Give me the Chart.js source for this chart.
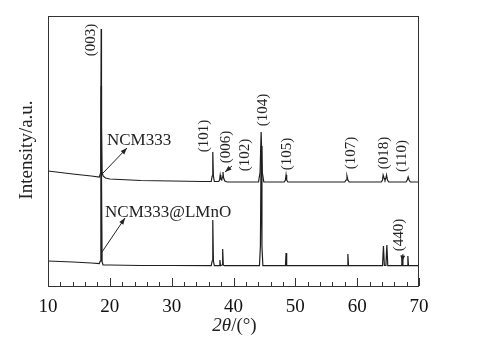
<!DOCTYPE html>
<html>
<head>
<meta charset="utf-8">
<script src="https://cdn.jsdelivr.net/npm/chart.js@4"></script>
<style>
  html, body { margin: 0; padding: 0; background: #fff; }
  #wrap { width: 477px; height: 354px; }
</style>
</head>
<body>
<div id="wrap"><canvas id="xrd" width="477" height="354"></canvas></div>
<script>
// 2theta / intensity (arbitrary units, upper trace offset)
var ncmTheta = [10, 14, 17, 18.3, 18.45, 18.55, 18.6, 18.65, 18.75, 18.9, 19.3, 20, 25, 30, 35, 36.4, 36.55, 36.65, 36.75, 36.9, 37.6, 37.75, 37.85, 37.95, 38.1, 38.2, 38.3, 38.4, 38.6, 39, 44.05, 44.3, 44.47, 44.65, 44.9, 48.2, 48.4, 48.5, 48.6, 48.8, 58.0, 58.2, 58.35, 58.5, 58.7, 63.9, 64.1, 64.2, 64.35, 64.5, 64.65, 64.75, 64.9, 65.1, 67.9, 68.1, 68.25, 68.4, 68.6, 70];
var ncmInt   = [115, 112, 110, 109, 112, 170, 257, 160, 114, 110, 108, 107, 105.5, 105, 104.5, 104.5, 110, 134, 110, 104.5, 104.5, 106, 111, 107, 106, 109, 114, 108, 105, 104, 104, 114, 154, 114, 104, 104, 106, 111, 106, 104, 104, 106, 110, 106, 104, 104, 106, 111, 108, 106, 108, 111, 106, 104, 104, 106, 109, 106, 104, 104];

var lmnoTheta = [10, 14, 17, 18.3, 18.45, 18.55, 18.6, 18.65, 18.75, 18.9, 20, 25, 30, 36.4, 36.55, 36.65, 36.75, 36.9, 37.7, 37.8, 37.9, 38.15, 38.25, 38.35, 38.5, 44.2, 44.35, 44.47, 44.6, 44.75, 48.4, 48.5, 48.6, 58.4, 58.5, 58.6, 64.1, 64.25, 64.4, 64.65, 64.8, 64.95, 67.2, 67.3, 67.4, 68.1, 68.2, 68.3, 70];
var lmnoInt   = [25, 24, 23, 22.5, 25, 120, 200, 110, 24, 21, 21, 20.5, 20.5, 20.3, 25, 66, 25, 20.3, 20.3, 26, 20.3, 21, 37, 21, 20.3, 20.3, 40, 140, 40, 20.3, 20.3, 33, 20.3, 20.3, 32, 20.3, 20.3, 40, 20.5, 20.5, 41, 20.3, 20.3, 28, 20.3, 20.3, 30, 20.3, 20.3];

var xTicks = [10, 20, 30, 40, 50, 60, 70];

// reflection labels: text, 2theta, intensity of label centre
var hklText  = ['(003)', '(101)', '(006)', '(102)', '(104)', '(105)', '(107)', '(018)', '(110)', '(440)'];
var hklTheta = [16.95, 35.23, 38.79, 41.86, 44.77, 48.65, 59.0, 64.34, 67.25, 66.77];
var hklInt   = [246, 150, 139, 131, 176, 132, 133, 133, 130, 51];

var sampleNames = ['NCM333', 'NCM333@LMnO'];
var sampleTheta = [19.54, 19.22];
var sampleInt   = [141, 69];

// arrows [theta0, int0, theta1, int1], head at the second point
var arrows = [
  [18.9, 113, 22.78, 138],
  [18.73, 34, 22.45, 68],
  [39.76, 120, 38.63, 114],
  [67.41, 32, 67.25, 24]
];

function toPoints(xs, ys) {
  return xs.map(function (x, i) { return { x: x, y: ys[i] }; });
}

var serif = "'Liberation Serif', 'Times New Roman', serif";

var decorPlugin = {
  id: 'decor',
  afterDraw: function (chart) {
    var ctx = chart.ctx;
    var a = chart.chartArea;
    var xs = chart.scales.x, ys = chart.scales.y;
    ctx.save();
    // frame
    ctx.strokeStyle = '#333';
    ctx.lineWidth = 1;
    ctx.strokeRect(Math.round(a.left) + 0.5, Math.round(a.top) + 0.5,
                   Math.round(a.right - a.left) - 1, Math.round(a.bottom - a.top));
    // inward ticks on bottom axis
    for (var t = 10; t <= 70; t += 2) {
      var px = Math.round(xs.getPixelForValue(t)) + 0.5;
      var len = (t % 10 === 0) ? 8 : 4;
      ctx.beginPath();
      ctx.moveTo(px, a.bottom);
      ctx.lineTo(px, a.bottom - len);
      ctx.stroke();
    }
    // hkl labels
    ctx.fillStyle = '#222';
    ctx.font = '15px ' + serif;
    ctx.textAlign = 'center';
    ctx.textBaseline = 'middle';
    hklText.forEach(function (s, i) {
      ctx.save();
      ctx.translate(xs.getPixelForValue(hklTheta[i]), ys.getPixelForValue(hklInt[i]));
      ctx.rotate(-Math.PI / 2);
      ctx.fillText(s, 0, 0);
      ctx.restore();
    });
    // sample names
    ctx.font = '17px ' + serif;
    ctx.textAlign = 'left';
    ctx.textBaseline = 'alphabetic';
    sampleNames.forEach(function (s, i) {
      ctx.fillText(s, xs.getPixelForValue(sampleTheta[i]), ys.getPixelForValue(sampleInt[i]));
    });
    // arrows
    ctx.strokeStyle = '#222';
    arrows.forEach(function (r) {
      var x0 = xs.getPixelForValue(r[0]), y0 = ys.getPixelForValue(r[1]);
      var x1 = xs.getPixelForValue(r[2]), y1 = ys.getPixelForValue(r[3]);
      var ang = Math.atan2(y1 - y0, x1 - x0);
      ctx.beginPath();
      ctx.moveTo(x0, y0);
      ctx.lineTo(x1, y1);
      ctx.stroke();
      ctx.beginPath();
      ctx.moveTo(x1, y1);
      ctx.lineTo(x1 - 7 * Math.cos(ang - 0.35), y1 - 7 * Math.sin(ang - 0.35));
      ctx.lineTo(x1 - 7 * Math.cos(ang + 0.35), y1 - 7 * Math.sin(ang + 0.35));
      ctx.closePath();
      ctx.fill();
    });
    // axis titles
    ctx.font = 'italic 19px ' + serif;
    var w1 = ctx.measureText('2θ').width;
    ctx.font = '19px ' + serif;
    var w2 = ctx.measureText('/(°)').width;
    var cx = (a.left + a.right) / 2 + 1;
    var start = cx - (w1 + w2) / 2;
    ctx.textBaseline = 'middle';
    ctx.font = 'italic 19px ' + serif;
    ctx.fillText('2θ', start, 326);
    ctx.font = '19px ' + serif;
    ctx.fillText('/(°)', start + w1, 326);

    ctx.save();
    ctx.translate(27, (a.top + a.bottom) / 2 - 1);
    ctx.rotate(-Math.PI / 2);
    ctx.textAlign = 'center';
    ctx.fillText('Intensity/a.u.', 0, 0);
    ctx.restore();
    ctx.restore();
  }
};

var ctx = document.getElementById('xrd').getContext('2d');
new Chart(ctx, {
  type: 'line',
  data: {
    datasets: [
      { label: 'NCM333', data: toPoints(ncmTheta, ncmInt) },
      { label: 'NCM333@LMnO', data: toPoints(lmnoTheta, lmnoInt) }
    ]
  },
  options: {
    responsive: false,
    animation: false,
    layout: { padding: { left: 48, right: 58, top: 16, bottom: 28 } },
    elements: {
      line: { borderColor: '#1e1e1e', borderWidth: 1.2, tension: 0 },
      point: { radius: 0 }
    },
    plugins: { legend: { display: false }, tooltip: { enabled: false } },
    scales: {
      x: {
        type: 'linear',
        min: 10,
        max: 70,
        afterBuildTicks: function (s) { s.ticks = xTicks.map(function (v) { return { value: v }; }); },
        afterFit: function (s) { s.height = 40; },
        grid: { display: false, drawTicks: false },
        border: { display: false },
        ticks: { color: '#111', padding: 10, font: { family: serif, size: 19 } }
      },
      y: {
        display: false,
        min: 0,
        max: 270
      }
    }
  },
  plugins: [decorPlugin]
});
</script>
</body>
</html>
